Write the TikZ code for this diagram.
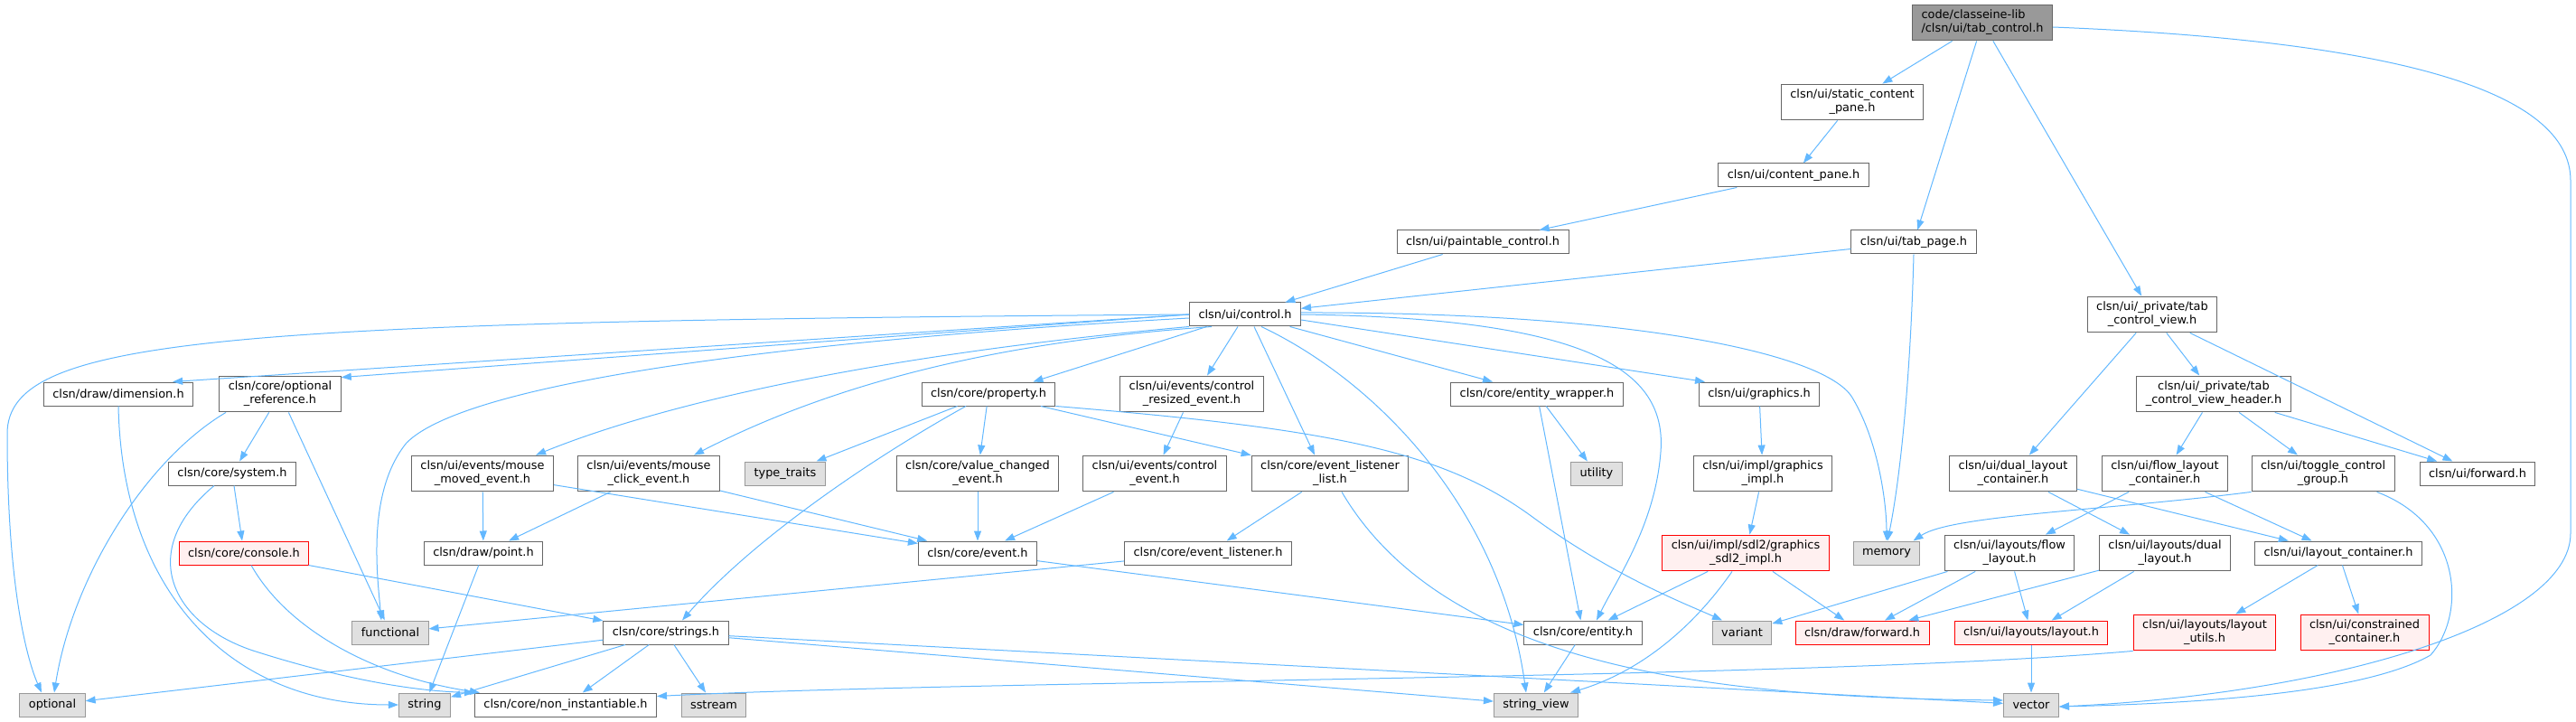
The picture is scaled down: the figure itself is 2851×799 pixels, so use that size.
\documentclass[tikz,border=0pt]{standalone}
\usepackage{fontspec}
\setmainfont{DejaVu Sans}
\usetikzlibrary{arrows.meta}
\definecolor{edgeblue}{HTML}{63B8FF}
\definecolor{boxgray}{HTML}{666666}
\definecolor{stdgray}{HTML}{999999}
\definecolor{stdfill}{HTML}{E0E0E0}
\definecolor{truncfill}{HTML}{FFF0F0}
\begin{document}
\begin{tikzpicture}[x=1pt, y=-1pt, font=\fontsize{12.9}{15}\selectfont,
  hfile/.style={draw=boxgray, fill=white, line width=1pt, inner xsep=10pt, inner ysep=6pt, minimum height=26pt, align=center},
  rootf/.style={hfile, fill=stdgray, align=left},
  stdh/.style={hfile, draw=stdgray, fill=stdfill},
  trunc/.style={hfile, draw=red, fill=truncfill},
  dep/.style={draw=edgeblue, line width=1pt, -{Triangle[length=11pt,width=8pt]}}]
  \useasboundingbox (0,0) rectangle (2851,799);
  % rows top to bottom, x/y in pixels of the graph
  \node[rootf] (root) at (2194,25) {code/classeine-lib\\/clsn/ui/tab\_control.h};
  \node[hfile] (stcp) at (2050,113) {clsn/ui/static\_content\\\_pane.h};
  \node[hfile] (cpane) at (1985,194) {clsn/ui/content\_pane.h};
  \node[hfile] (paint) at (1641,268) {clsn/ui/paintable\_control.h};
  \node[hfile] (tabpg) at (2118,268) {clsn/ui/tab\_page.h};
  \node[hfile] (ctrl) at (1378,348) {clsn/ui/control.h};
  \node[hfile] (tcv) at (2382,348) {clsn/ui/\_private/tab\\\_control\_view.h};
  \node[hfile] (dim) at (131,436) {clsn/draw/dimension.h};
  \node[hfile] (oref) at (310,436) {clsn/core/optional\\\_reference.h};
  \node[hfile] (prop) at (1094,436) {clsn/core/property.h};
  \node[hfile] (cres) at (1319,436) {clsn/ui/events/control\\\_resized\_event.h};
  \node[hfile] (ewrap) at (1701,436) {clsn/core/entity\_wrapper.h};
  \node[hfile] (gfx) at (1947,436) {clsn/ui/graphics.h};
  \node[hfile] (tcvh) at (2450,436) {clsn/ui/\_private/tab\\\_control\_view\_header.h};
  \node[hfile] (sysh) at (257,524) {clsn/core/system.h};
  \node[hfile] (mmove) at (534,524) {clsn/ui/events/mouse\\\_moved\_event.h};
  \node[hfile] (mclick) at (718,524) {clsn/ui/events/mouse\\\_click\_event.h};
  \node[stdh]  (ttraits) at (869,524) {type\_traits};
  \node[hfile] (vchg) at (1082,524) {clsn/core/value\_changed\\\_event.h};
  \node[hfile] (cevt) at (1278,524) {clsn/ui/events/control\\\_event.h};
  \node[hfile] (elist) at (1472,524) {clsn/core/event\_listener\\\_list.h};
  \node[stdh]  (util) at (1767,524) {utility};
  \node[hfile] (gimpl) at (1951,524) {clsn/ui/impl/graphics\\\_impl.h};
  \node[hfile] (dlc) at (2228,524) {clsn/ui/dual\_layout\\\_container.h};
  \node[hfile] (flc) at (2396,524) {clsn/ui/flow\_layout\\\_container.h};
  \node[hfile] (tog) at (2571,524) {clsn/ui/toggle\_control\\\_group.h};
  \node[hfile] (uifwd) at (2742,524) {clsn/ui/forward.h};
  \node[trunc] (cons) at (270,612) {clsn/core/console.h};
  \node[hfile] (point) at (535,612) {clsn/draw/point.h};
  \node[hfile] (evt) at (1082,612) {clsn/core/event.h};
  \node[hfile] (elis) at (1337,612) {clsn/core/event\_listener.h};
  \node[trunc] (sdl) at (1932,612) {clsn/ui/impl/sdl2/graphics\\\_sdl2\_impl.h};
  \node[stdh]  (memory) at (2088,612) {memory};
  \node[hfile] (flow) at (2224,612) {clsn/ui/layouts/flow\\\_layout.h};
  \node[hfile] (dual) at (2396,612) {clsn/ui/layouts/dual\\\_layout.h};
  \node[hfile] (lcont) at (2588,612) {clsn/ui/layout\_container.h};
  \node[stdh]  (functional) at (432,700) {functional};
  \node[hfile] (strings) at (737,700) {clsn/core/strings.h};
  \node[hfile] (entity) at (1752,700) {clsn/core/entity.h};
  \node[stdh]  (variant) at (1928,700) {variant};
  \node[trunc] (dfwd) at (2061,700) {clsn/draw/forward.h};
  \node[trunc] (layout) at (2248,700) {clsn/ui/layouts/layout.h};
  \node[trunc] (lutil) at (2440,700) {clsn/ui/layouts/layout\\\_utils.h};
  \node[trunc] (constr) at (2617,700) {clsn/ui/constrained\\\_container.h};
  \node[stdh]  (optional) at (58,780) {optional};
  \node[stdh]  (string) at (470,780) {string};
  \node[hfile] (noninst) at (626,780) {clsn/core/non\_instantiable.h};
  \node[stdh]  (sstream) at (790,780) {sstream};
  \node[stdh]  (strview) at (1700,780) {string\_view};
  \node[stdh]  (vector) at (2248,780) {vector};
  % includes of the file itself
  \draw[dep] (root) -- (stcp); \draw[dep] (root) -- (tabpg); \draw[dep] (root) -- (tcv);
  \draw[dep] ([yshift=-5pt]root.east) .. controls (2650,45) and (2845,100) .. (2845,200) -- (2845,590)
    .. controls (2845,690) and (2580,768) .. ([yshift=-2pt]vector.east);
  \draw[dep] (stcp) -- (cpane); \draw[dep] (cpane) -- (paint);
  \draw[dep] (paint) -- (ctrl); \draw[dep] (tabpg) -- (ctrl);
  \draw[dep] (tabpg.south) .. controls (2115,400) and (2105,520) .. ([xshift=1pt]memory.north);
  % control.h
  \draw[dep] (ctrl.west) .. controls (250,356) and (8,372) .. (8,480) .. controls (8,650) and (30,730) .. ([xshift=-12pt]optional.north);
  \draw[dep] (ctrl.west) -- ([xshift=-23pt]dim.north east);
  \draw[dep] (ctrl.west) -- ([yshift=-2pt]oref.north east);
  \draw[dep] ([yshift=-4pt]ctrl.west) .. controls (900,375) and (520,420) .. (450,490) .. controls (405,545) and (418,640) .. ([xshift=-10pt]functional.north);
  \draw[dep] (ctrl.south west) .. controls (1000,390) and (750,440) .. ([xshift=-20pt]mmove.north east);
  \draw[dep] ([xshift=25pt]ctrl.south west) .. controls (1150,375) and (950,410) .. ([xshift=-29pt]mclick.north east);
  \draw[dep] (ctrl) -- ([xshift=-25pt]prop.north east);
  \draw[dep] ([xshift=-8pt]ctrl.south) -- ([xshift=17pt]cres.north);
  \draw[dep] ([xshift=10pt]ctrl.south) -- ([xshift=-17pt]elist.north);
  \draw[dep] ([xshift=18pt]ctrl.south) .. controls (1520,420) and (1660,560) .. ([xshift=-11pt]strview.north);
  \draw[dep] (ctrl) -- ([xshift=-49pt]ewrap.north);
  \draw[dep] (ctrl.east) .. controls (1760,352) and (1845,410) .. (1838,500) .. controls (1832,580) and (1790,640) .. ([xshift=15pt]entity.north);
  \draw[dep] ([yshift=-6pt]ctrl.east) -- ([xshift=-60pt]gfx.north);
  \draw[dep] ([yshift=2pt]ctrl.east) .. controls (1800,345) and (2020,390) .. (2050,440) .. controls (2080,490) and (2088,560) .. (memory.north);
  % tab control view
  \draw[dep] (tcv) -- (dlc); \draw[dep] (tcv) -- (tcvh); \draw[dep] (tcv) -- (uifwd);
  \draw[dep] (tcvh) -- (flc); \draw[dep] (tcvh) -- (tog); \draw[dep] (tcvh) -- (uifwd);
  \draw[dep] (dlc) -- (dual); \draw[dep] (dlc) -- (lcont);
  \draw[dep] (flc) -- (flow); \draw[dep] (flc) -- (lcont);
  \draw[dep] (tog.south west) .. controls (2330,565) and (2160,570) .. ([xshift=-8pt]memory.north east);
  \draw[dep] ([xshift=-20pt]tog.south east) .. controls (2725,580) and (2730,680) .. (2690,725) .. controls (2620,765) and (2450,778) .. ([yshift=-2pt]vector.east);
  \draw[dep] (lcont) -- (lutil); \draw[dep] (lcont) -- (constr);
  \draw[dep] (flow) -- (variant); \draw[dep] (flow) -- (dfwd); \draw[dep] (flow) -- (layout);
  \draw[dep] (dual) -- (dfwd); \draw[dep] (dual) -- (layout);
  \draw[dep] (layout) -- (vector);
  \draw[dep] (lutil.south west) .. controls (2000,752) and (1100,752) .. ([yshift=-4pt]noninst.north east);
  % graphics and entities
  \draw[dep] (gfx) -- (gimpl); \draw[dep] (gimpl) -- (sdl);
  \draw[dep] (sdl) -- (entity); \draw[dep] (sdl) -- (dfwd);
  \draw[dep] ([xshift=-15pt]sdl.south) .. controls (1870,700) and (1810,745) .. ([xshift=38pt]strview.north);
  \draw[dep] (ewrap) -- (entity); \draw[dep] (ewrap) -- (util);
  \draw[dep] (entity) -- (strview);
  % events and properties
  \draw[dep] (prop) -- (ttraits); \draw[dep] (prop) -- (vchg); \draw[dep] (prop) -- (elist);
  \draw[dep] ([xshift=-25pt]prop.south) .. controls (960,510) and (830,600) .. ([xshift=18pt]strings.north);
  \draw[dep] (prop.south east) .. controls (1480,475) and (1600,500) .. (1700,575) .. controls (1790,640) and (1870,670) .. ([xshift=-22pt]variant.north);
  \draw[dep] (cres) -- (cevt); \draw[dep] (cevt) -- (evt); \draw[dep] (vchg) -- (evt);
  \draw[dep] (mmove) -- (evt); \draw[dep] (mclick) -- (evt);
  \draw[dep] (mmove) -- (point); \draw[dep] (mclick) -- (point);
  \draw[dep] (evt) -- (entity);
  \draw[dep] (elist) -- (elis); \draw[dep] (elis) -- (functional);
  \draw[dep] ([xshift=13pt]elist.south) .. controls (1600,740) and (1900,772) .. ([yshift=5pt]vector.west);
  \draw[dep] (point) -- (string);
  % core helpers
  \draw[dep] (oref) -- (sysh); \draw[dep] (oref) -- (functional);
  \draw[dep] ([xshift=-60pt]oref.south) .. controls (160,510) and (80,640) .. ([xshift=2pt]optional.north);
  \draw[dep] (dim.south) .. controls (135,650) and (250,780) .. (string.west);
  \draw[dep] (sysh) -- (cons);
  \draw[dep] ([xshift=-20pt]sysh.south) .. controls (150,610) and (190,690) .. (280,720) .. controls (380,752) and (460,765) .. (noninst.north west);
  \draw[dep] ([xshift=8pt]cons.south) .. controls (320,700) and (420,750) .. ([xshift=6pt]noninst.north west);
  \draw[dep] (cons) -- (strings);
  \draw[dep] (strings) -- (optional); \draw[dep] (strings) -- (string); \draw[dep] (strings) -- (noninst);
  \draw[dep] (strings) -- (sstream); \draw[dep] (strings) -- (strview); \draw[dep] (strings) -- (vector);
\end{tikzpicture}
\end{document}
